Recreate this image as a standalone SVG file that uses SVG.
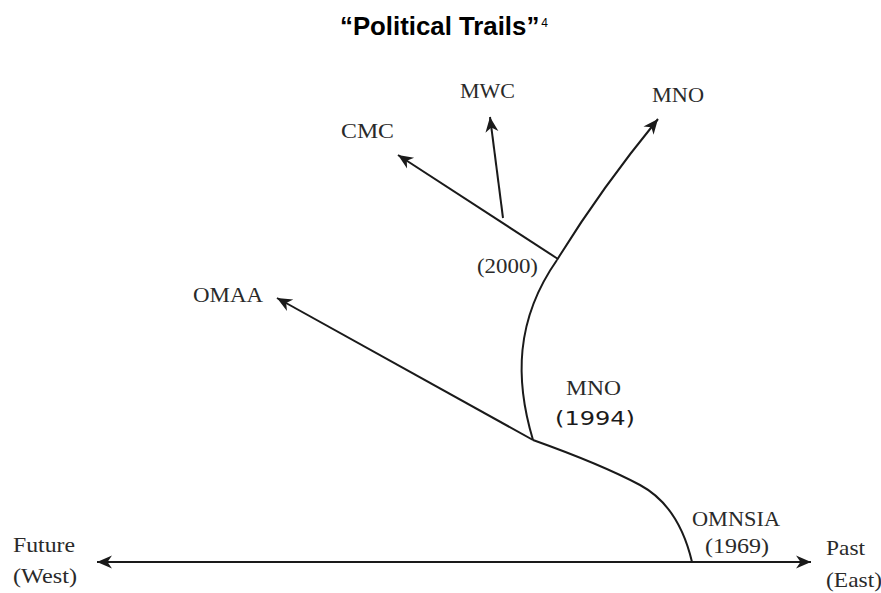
<svg xmlns="http://www.w3.org/2000/svg" width="881" height="593" viewBox="0 0 881 593">
<defs>
<style>
.lbl{font-family:"Liberation Serif","Times New Roman",serif;font-size:21px;fill:#2a2a2a;}
.mono{font-family:"DejaVu Sans","Liberation Sans",sans-serif;font-size:20px;fill:#1a1a1a;}
.title{font-family:"Liberation Sans",Arial,sans-serif;font-weight:bold;fill:#000;}
.ln{fill:none;stroke:#1a1a1a;stroke-width:2;}
</style>
<marker id="ah" markerUnits="userSpaceOnUse" viewBox="-16 -8 17 16" markerWidth="17" markerHeight="16" refX="0" refY="0" orient="auto">
<path d="M0,0 L-15,-6.5 L-10.5,0 L-15,6.5 Z" fill="#1a1a1a"/>
</marker>
</defs>
<rect width="881" height="593" fill="#fff"/>
<g id="title">
<text class="title" x="340" y="35"><tspan font-size="25.8">“Political Trails”</tspan><tspan font-size="12" font-weight="normal" dx="2" dy="-8">4</tspan></text>
</g>
<g id="connectors">
<path class="ln" d="M692 562 H811" marker-end="url(#ah)"/>
<path class="ln" d="M692 562 H97" marker-end="url(#ah)"/>
<path class="ln" d="M692 562 C684 528 668 500 640 485 C610 469 575 455 533 440"/>
<path class="ln" d="M533 440 L277 298" marker-end="url(#ah)"/>
<path class="ln" d="M533 440 C515 380 515 320 557 260"/>
<path class="ln" d="M557 260 Q600 190 658 119" marker-end="url(#ah)"/>
<path class="ln" d="M558 259 L398 155" marker-end="url(#ah)"/>
<path class="ln" d="M503 218 L490 117" marker-end="url(#ah)"/>
</g>
<g id="node-mwc"><text class="lbl" x="460" y="98" textLength="55" lengthAdjust="spacingAndGlyphs">MWC</text></g>
<g id="node-cmc"><text class="lbl" x="341" y="138" textLength="53" lengthAdjust="spacingAndGlyphs">CMC</text></g>
<g id="node-mno-top"><text class="lbl" x="652" y="102" textLength="52" lengthAdjust="spacingAndGlyphs">MNO</text></g>
<g id="node-2000"><text class="lbl" x="477" y="273" textLength="61" lengthAdjust="spacingAndGlyphs">(2000)</text></g>
<g id="node-omaa"><text class="lbl" x="193" y="302" textLength="70" lengthAdjust="spacingAndGlyphs">OMAA</text></g>
<g id="node-mno-1994">
<text class="lbl" x="566" y="395" textLength="55" lengthAdjust="spacingAndGlyphs">MNO</text>
<text class="mono" x="555" y="425" textLength="80" lengthAdjust="spacingAndGlyphs">(1994)</text>
</g>
<g id="node-omnsia">
<text class="lbl" x="692" y="526" textLength="88" lengthAdjust="spacingAndGlyphs">OMNSIA</text>
<text class="lbl" x="705" y="553" textLength="64" lengthAdjust="spacingAndGlyphs">(1969)</text>
</g>
<g id="node-past">
<text class="lbl" x="826" y="555" textLength="39" lengthAdjust="spacingAndGlyphs">Past</text>
<text class="lbl" x="826" y="587" textLength="56" lengthAdjust="spacingAndGlyphs">(East)</text>
</g>
<g id="node-future">
<text class="lbl" x="13" y="552" textLength="62" lengthAdjust="spacingAndGlyphs">Future</text>
<text class="lbl" x="13" y="583" textLength="64" lengthAdjust="spacingAndGlyphs">(West)</text>
</g>
</svg>
